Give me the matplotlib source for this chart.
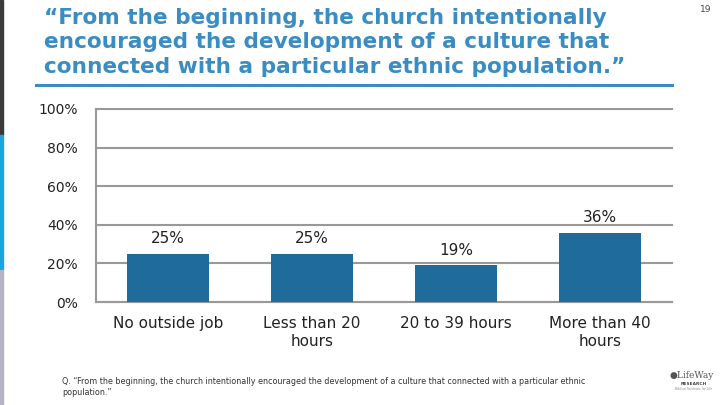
import matplotlib
matplotlib.use("Agg")
import matplotlib.pyplot as plt
from matplotlib.patches import Rectangle
from matplotlib.lines import Line2D

categories = ["No outside job", "Less than 20\nhours", "20 to 39 hours", "More than 40\nhours"]
values = [25, 25, 19, 36]
value_labels = ["25%", "25%", "19%", "36%"]
yticks = [0, 20, 40, 60, 80, 100]
ytick_labels = ["0%", "20%", "40%", "60%", "80%", "100%"]
title = "\u201cFrom the beginning, the church intentionally\nencouraged the development of a culture that\nconnected with a particular ethnic population.\u201d"
footnote = "Q. \u201cFrom the beginning, the church intentionally encouraged the development of a culture that connected with a particular ethnic\npopulation.\u201d"

W, H = 720, 405
fig = plt.figure(figsize=(7.2, 4.05), dpi=100)
fig.patch.set_facecolor("white")

# left decorative strip
for y0, y1, c in [(0, 135, "#3a3a3a"), (135, 270, "#1aa6dc"), (270, 405, "#b4b4c4")]:
    fig.patches.append(Rectangle((0, 1 - y1 / H), 3 / W, (y1 - y0) / H,
                                 transform=fig.transFigure, color=c, zorder=0))

# title
fig.text(44 / W, 1 - 7.5 / H, title, ha="left", va="top", fontsize=15.6,
         color="#3a8dc3", fontweight="bold", linespacing=1.3, family="DejaVu Sans")
fig.lines.append(Line2D([36 / W, 672 / W], [1 - 85 / H, 1 - 85 / H],
                        transform=fig.transFigure, color="#3a8dc3", lw=2.2))
fig.text(706 / W, 1 - 10 / H, "19", ha="center", va="center", fontsize=6.5, color="#444444")

left, right = 96, 672
top, bottom = 109, 302
ax = fig.add_axes([left / W, 1 - bottom / H, (right - left) / W, (bottom - top) / H])
x = range(len(categories))
ax.bar(x, values, width=0.57, color="#1f6b9b", zorder=3)
ax.set_xlim(-0.5, len(categories) - 0.5)
ax.set_ylim(0, 100)
ax.set_yticks(yticks)
ax.set_yticklabels(ytick_labels, fontsize=10, color="#222222")
ax.yaxis.grid(True, color="#999999", lw=1.5, zorder=0)
for gl in ax.get_ygridlines():
    gl.set_clip_on(False)
ax.set_xticks(list(x))
ax.set_xticklabels(categories, fontsize=11, color="#222222", linespacing=1.3)
ax.tick_params(axis="both", length=0)
ax.tick_params(axis="x", pad=10)
ax.tick_params(axis="y", pad=13)
for s in ["top", "right"]:
    ax.spines[s].set_visible(False)
ax.spines["left"].set_color("#999999")
ax.spines["left"].set_linewidth(1.5)
ax.spines["bottom"].set_color("#999999")
ax.spines["bottom"].set_linewidth(1.5)
for xi, v, lab in zip(x, values, value_labels):
    ax.annotate(lab, (xi, v), xytext=(0, 15), textcoords="offset pixels",
                ha="center", va="center", fontsize=11, color="#222222")

fig.text(62 / W, 1 - 387 / H, footnote, ha="left", va="center", fontsize=5.8,
         color="#333333", linespacing=1.25)

# logo approximation
fig.text(692 / W, 1 - 376 / H, "\u25cfLifeWay", ha="center", va="center", fontsize=6.5,
         color="#555555", family="DejaVu Serif")
fig.text(694 / W, 1 - 384 / H, "RESEARCH", ha="center", va="center", fontsize=3.2,
         color="#444444", fontweight="bold")
fig.text(694 / W, 1 - 389 / H, "Biblical Solutions for Life", ha="center", va="center",
         fontsize=2.2, color="#888888")

fig.savefig("out.png", dpi=100)
